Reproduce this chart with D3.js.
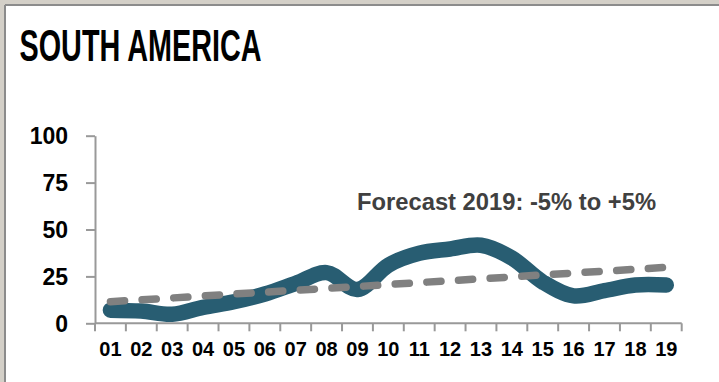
<!DOCTYPE html>
<html>
<head>
<meta charset="utf-8">
<script src="https://cdn.jsdelivr.net/npm/d3@7"></script>
<style>
  html, body { margin: 0; padding: 0; background: #d4d0c8; }
  svg { display: block; }
  text { font-family: "Liberation Sans", Arial, sans-serif; font-weight: bold; }
</style>
</head>
<body>
<svg id="chart" width="719" height="382"></svg>
<script>
// Years (two-digit) along the bottom
const categories = ["01","02","03","04","05","06","07","08","09","10",
                    "11","12","13","14","15","16","17","18","19"];
// Yearly index for South America
const actualValues = [7, 6.5, 4.8, 8.5, 11.5, 15.6, 21.3, 27, 18, 31,
                      37.3, 39.6, 41.6, 34.8, 22, 14.6, 17.4, 20.4, 20.4];
// Trend line values
const trendValues = [11.5, 12.5, 13.5, 14.6, 15.6, 16.6, 17.6, 18.6, 19.6, 20.7,
                     21.7, 22.7, 23.7, 24.7, 25.8, 26.8, 27.8, 28.8, 29.9];
const yTicks = [0, 25, 50, 75, 100];
const titleText = "SOUTH AMERICA";
const noteText = "Forecast 2019: -5% to +5%";

const svg = d3.select("#chart");
const W = 719, H = 382;

// panel frame
svg.append("rect").attr("width", W).attr("height", H).attr("fill", "#d4d0c8");
svg.append("rect").attr("x", 6).attr("y", 6).attr("width", W - 6).attr("height", H - 6).attr("fill", "#fff");
svg.append("line").attr("x1", 5).attr("x2", 5).attr("y1", 5).attr("y2", H)
  .attr("stroke", "#8c8c8c").attr("stroke-width", 2);
svg.append("line").attr("x1", 5).attr("x2", W).attr("y1", 5).attr("y2", 5)
  .attr("stroke", "#8c8c8c").attr("stroke-width", 2);

// title
svg.append("text")
  .attr("x", 19.5).attr("y", 60.5)
  .attr("font-size", 45)
  .attr("textLength", 242).attr("lengthAdjust", "spacingAndGlyphs")
  .attr("fill", "#000")
  .text(titleText);

const plot = { left: 95, right: 681.7, top: 135.7, bottom: 323.3 };

const x = d3.scaleBand().domain(categories).range([plot.left, plot.right]).padding(0);
const y = d3.scaleLinear().domain([0, 100]).range([plot.bottom, plot.top]);

const axisColor = "#999";

// y axis
const yAxis = svg.append("g")
  .attr("transform", `translate(${plot.left},0)`)
  .call(d3.axisLeft(y).tickValues(yTicks).tickSize(9).tickPadding(18).tickSizeOuter(0));
yAxis.select(".domain").attr("stroke", axisColor).attr("stroke-width", 2);
yAxis.selectAll(".tick line").attr("stroke", axisColor).attr("stroke-width", 2);
yAxis.selectAll(".tick text")
  .attr("font-size", 23).attr("font-family", null).attr("fill", "#000").attr("dy", "0.36em");

// x axis: labels centred in bands, ticks on band boundaries
const xAxis = svg.append("g")
  .attr("transform", `translate(0,${plot.bottom})`)
  .call(d3.axisBottom(x).tickSize(0).tickPadding(19).tickSizeOuter(0));
xAxis.select(".domain").attr("stroke", axisColor).attr("stroke-width", 2)
  .attr("d", `M${plot.left},0H${plot.right}`);
xAxis.selectAll(".tick text")
  .attr("font-size", 20).attr("font-family", null).attr("fill", "#000");

const boundaries = categories.map(c => x(c)).concat([x(categories[categories.length - 1]) + x.bandwidth()]);
xAxis.selectAll("line.bound")
  .data(boundaries)
  .join("line")
  .attr("class", "bound")
  .attr("x1", d => d).attr("x2", d => d)
  .attr("y1", 0).attr("y2", 8)
  .attr("stroke", axisColor).attr("stroke-width", 2);

const cx = c => x(c) + x.bandwidth() / 2;

// actual series: thick smoothed line
const smooth = d3.line()
  .x((d, i) => cx(categories[i]))
  .y(d => y(d))
  .curve(d3.curveCatmullRom.alpha(0.5));

svg.append("path")
  .datum(actualValues)
  .attr("d", smooth)
  .attr("fill", "none")
  .attr("stroke", "#285d72")
  .attr("stroke-width", 15.5)
  .attr("stroke-linecap", "round")
  .attr("stroke-linejoin", "round");

// trend: dashed grey line
const straight = d3.line()
  .x((d, i) => cx(categories[i]))
  .y(d => y(d));

svg.append("path")
  .datum(trendValues)
  .attr("d", straight)
  .attr("fill", "none")
  .attr("stroke", "#808080")
  .attr("stroke-width", 7.5)
  .attr("stroke-linecap", "round")
  .attr("stroke-dasharray", "14.2 17.5");

// forecast note
svg.append("text")
  .attr("x", 357).attr("y", 210)
  .attr("font-size", 23.5)
  .attr("textLength", 299).attr("lengthAdjust", "spacingAndGlyphs")
  .attr("fill", "#404040")
  .text(noteText);
</script>
</body>
</html>
